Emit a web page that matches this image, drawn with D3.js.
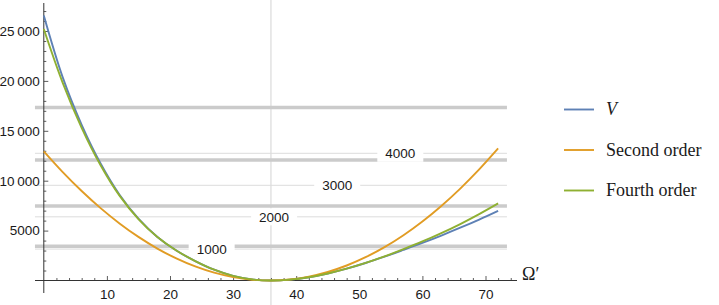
<!DOCTYPE html>
<html>
<head>
<meta charset="utf-8">
<script src="https://cdn.jsdelivr.net/npm/d3@7"></script>
<style>
  body { margin: 0; background: #fff; }
  svg { display: block; }
  .tick text { font-family: "Liberation Sans", Arial, sans-serif; font-size: 13.5px; fill: #1a1a1a; }
</style>
</head>
<body>
<div id="chart"></div>
<script>
// ---------- DATA ----------
const omega = [0, 3, 6, 9, 12, 15, 18, 21, 24, 27, 30, 33, 36, 39, 42, 45, 48, 51, 54, 57, 60, 63, 66, 69, 72];
const vValues = [26550, 20350, 15600, 11720, 8590, 6190, 4365, 3005, 1950, 1080, 460, 110, 0, 87, 330, 702, 1185, 1751, 2386, 3068, 3768, 4508, 5288, 6108, 6982];
const secondOrder = [12945, 10866, 8969, 7254, 5721, 4370, 3200, 2212, 1406, 782, 340, 79, 0, 103, 388, 855, 1503, 2334, 3345, 4539, 5915, 7472, 9211, 11132, 13231];
const fourthOrder = [25200, 19800, 15300, 11550, 8500, 6150, 4350, 3000, 1950, 1080, 460, 110, 0, 87, 330, 702, 1185, 1761, 2416, 3138, 3908, 4748, 5658, 6648, 7722];

const seriesNames = ["V", "Second order", "Fourth order"];
const seriesColors = ["#5E81B5", "#E19C24", "#8FB032"];

// grey reference levels
const thickLevels = [17335, 12074, 7465, 3427];
const thinLevels = [3150, 6380, 9540, 12745];
const levelLabels = ["1000", "2000", "3000", "4000"];
const labelOmega = [26.6, 36.5, 46.5, 56.5];
const minimumOmega = 36;

const xMajor = [10, 20, 30, 40, 50, 60, 70];
const yMajor = [5000, 10000, 15000, 20000, 25000];

// ---------- LAYOUT ----------
const width = 719, height = 305;

const x = d3.scaleLinear().domain([0, 70]).range([43.8, 485.5]);
const y = d3.scaleLinear().domain([0, 25000]).range([280.5, 31]);

const svg = d3.select("#chart").append("svg")
  .attr("width", width)
  .attr("height", height);

// vertical line at the minimum
svg.append("line")
  .attr("x1", x(minimumOmega)).attr("x2", x(minimumOmega))
  .attr("y1", 0).attr("y2", height)
  .attr("stroke", "#d4d4d4").attr("stroke-width", 1);

// thin levels
svg.selectAll(".thin")
  .data(thinLevels)
  .join("line")
  .attr("class", "thin")
  .attr("x1", x(-1.4)).attr("x2", x(73.4))
  .attr("y1", d => y(d)).attr("y2", d => y(d))
  .attr("stroke", "#dcdcdc").attr("stroke-width", 1);

// thick levels
svg.selectAll(".thick")
  .data(thickLevels)
  .join("line")
  .attr("class", "thick")
  .attr("x1", x(-1.4)).attr("x2", x(73.4))
  .attr("y1", d => y(d)).attr("y2", d => y(d))
  .attr("stroke", "#cbcbcb").attr("stroke-width", 3.5);

// level labels with white boxes
const lbl = svg.selectAll(".lvl")
  .data(levelLabels)
  .join("g")
  .attr("class", "lvl")
  .attr("transform", (d, i) => `translate(${x(labelOmega[i])},${y(thinLevels[i])})`);

lbl.append("rect")
  .attr("x", -23).attr("y", -8.5)
  .attr("width", 46).attr("height", 17)
  .attr("fill", "#fff");

lbl.append("text")
  .attr("text-anchor", "middle")
  .attr("dy", "0.36em")
  .style("font-family", "'Liberation Sans', Arial, sans-serif")
  .style("font-size", "13.5px")
  .attr("fill", "#1a1a1a")
  .text(d => d);

// ---------- AXES ----------
const xMinor = d3.range(2, 75, 2).filter(v => v % 10 !== 0);
const yMinor = d3.range(1000, 28000, 1000).filter(v => v % 5000 !== 0);

svg.append("g")
  .attr("transform", `translate(0,${y(0)})`)
  .call(d3.axisBottom(x).tickValues(xMinor).tickSize(-2.5).tickFormat(""))
  .call(g => g.select(".domain").remove())
  .call(g => g.selectAll("line").attr("stroke", "#333").attr("stroke-width", 0.8));

svg.append("g")
  .attr("transform", `translate(0,${y(0)})`)
  .call(d3.axisBottom(x).tickValues(xMajor).tickSize(-4.5).tickPadding(8.5).tickFormat(d3.format("d")))
  .call(g => g.select(".domain").remove())
  .call(g => g.selectAll("line").attr("stroke", "#333").attr("stroke-width", 0.8));

svg.append("g")
  .attr("transform", `translate(${x(0)},0)`)
  .call(d3.axisLeft(y).tickValues(yMinor).tickSize(-2.5).tickFormat(""))
  .call(g => g.select(".domain").remove())
  .call(g => g.selectAll("line").attr("stroke", "#333").attr("stroke-width", 0.8));

svg.append("g")
  .attr("transform", `translate(${x(0)},0)`)
  .call(d3.axisLeft(y).tickValues(yMajor).tickSize(-4.5).tickPadding(4)
    .tickFormat(d => d >= 10000 ? d3.format("d")(d).replace(/(\d\d)(\d{3})$/, "$1\u2009$2") : d3.format("d")(d)))
  .call(g => g.select(".domain").remove())
  .call(g => g.selectAll("line").attr("stroke", "#333").attr("stroke-width", 0.8));

// axis lines
svg.append("line")
  .attr("x1", 35).attr("x2", 517)
  .attr("y1", y(0)).attr("y2", y(0))
  .attr("stroke", "#333").attr("stroke-width", 1);

svg.append("line")
  .attr("x1", x(0)).attr("x2", x(0))
  .attr("y1", 3).attr("y2", 293)
  .attr("stroke", "#333").attr("stroke-width", 1);

svg.append("text")
  .attr("x", 522).attr("y", 280)
  .style("font-family", "'Liberation Serif', 'Times New Roman', serif")
  .style("font-size", "18px")
  .attr("fill", "#1a1a1a")
  .text("\u03A9\u2032");

// ---------- CURVES ----------
const seriesData = [vValues, secondOrder, fourthOrder];

const line = d3.line()
  .x((d, i) => x(omega[i]))
  .y(d => y(d))
  .curve(d3.curveCatmullRom.alpha(0.5));

svg.selectAll(".curve")
  .data(seriesData)
  .join("path")
  .attr("class", "curve")
  .attr("d", d => line(d))
  .attr("fill", "none")
  .attr("stroke", (d, i) => seriesColors[i])
  .attr("stroke-width", 1.9)
  .attr("stroke-linejoin", "round");

// ---------- LEGEND ----------
const legend = svg.selectAll(".legend")
  .data(seriesNames)
  .join("g")
  .attr("class", "legend")
  .attr("transform", (d, i) => `translate(564,${109.5 + i * 40.5})`);

legend.append("line")
  .attr("x1", 0).attr("x2", 30)
  .attr("stroke", (d, i) => seriesColors[i])
  .attr("stroke-width", 1.9);

legend.append("text")
  .attr("x", 42).attr("dy", "0.33em")
  .style("font-family", "'Liberation Serif', 'Times New Roman', serif")
  .style("font-size", "18px")
  .style("font-style", (d, i) => i === 0 ? "italic" : "normal")
  .attr("fill", "#1a1a1a")
  .text(d => d);
</script>
</body>
</html>
